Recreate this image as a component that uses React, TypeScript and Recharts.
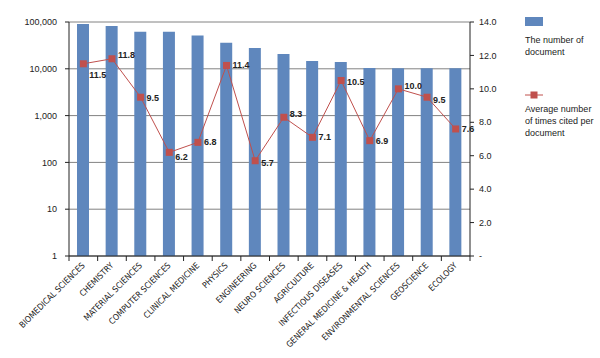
import React from 'react';
import {
  ComposedChart,
  Bar,
  Line,
  XAxis,
  YAxis,
  CartesianGrid,
  LabelList
} from 'recharts';

const categories = [
  'BIOMEDICAL SCIENCES',
  'CHEMISTRY',
  'MATERIAL SCIENCES',
  'COMPUTER SCIENCES',
  'CLINICAL MEDICINE',
  'PHYSICS',
  'ENGINEERING',
  'NEURO SCIENCES',
  'AGRICULTURE',
  'INFECTIOUS DISEASES',
  'GENERAL MEDICINE & HEALTH',
  'ENVIRONMENTAL SCIENCES',
  'GEOSCIENCE',
  'ECOLOGY'
];

// number of documents (log axis, left)
const documents = [90600, 82000, 62000, 62000, 51500, 36000, 27800, 20700, 14700, 14000, 10400, 10300, 10300, 10300];

// average number of times cited per document (right axis)
const citesPerDoc = [11.5, 11.8, 9.5, 6.2, 6.8, 11.4, 5.7, 8.3, 7.1, 10.5, 6.9, 10.0, 9.5, 7.6];

const leftTicks = [1, 10, 100, 1000, 10000, 100000];
const rightTicks = [0, 2, 4, 6, 8, 10, 12, 14];

const W = 600;
const H = 358;
const PLOT_LEFT = 69;
const PLOT_RIGHT = 470;
const BAND = (PLOT_RIGHT - PLOT_LEFT) / categories.length;

const BAR_COLOR = '#5f87bd';
const LINE_COLOR = '#c0504d';
const FONT = '"Liberation Sans", Arial, sans-serif';
const NARROW = '"Liberation Sans Narrow", "DejaVu Sans Condensed", "Liberation Sans", sans-serif';

// small nudges so labels don't sit on the line (like the original)
const labelDy = [11, -4, 1, 5, 0, 0, 2, -3, 0, 1, 0, -3, 3, 0];

const data = categories.map((name, i) => ({
  name,
  docs: documents[i],
  cites: citesPerDoc[i]
}));

const XTick = (props: any) => {
  const { x, y, payload, index } = props;
  const half = BAND / 2;
  return (
    <g>
      <line x1={x - half} y1={y} x2={x - half} y2={y + 5} stroke="#222" />
      {index === categories.length - 1 && (
        <line x1={x + half} y1={y} x2={x + half} y2={y + 5} stroke="#222" />
      )}
      <text
        transform={`translate(${x + 2},${y + 10}) rotate(-45)`}
        textAnchor="end"
        fontSize={8.5}
        fontFamily={NARROW}
        fill="#222"
      >
        {payload.value}
      </text>
    </g>
  );
};

const SquareDot = (props: any) => {
  const { cx, cy } = props;
  if (cx == null || cy == null) return null;
  return <rect x={cx - 3.5} y={cy - 3.5} width={7} height={7} fill={LINE_COLOR} />;
};

const ValueLabel = (props: any) => {
  const { x, y, value, index } = props;
  return (
    <text
      x={x + 6}
      y={y + (labelDy[index] || 0)}
      dominantBaseline="central"
      fontSize={9}
      fontWeight="bold"
      fontFamily={FONT}
      fill="#222"
    >
      {Number(value).toFixed(1)}
    </text>
  );
};

export default function App() {
  return (
    <div style={{ position: 'absolute', left: 0, top: 0, width: W, height: H, background: '#fff' }}>
      <ComposedChart
        width={W}
        height={H}
        data={data}
        margin={{ top: 22, right: 90, left: 0, bottom: 0 }}
      >
        <CartesianGrid yAxisId="left" vertical={false} stroke="#828282" />
        <XAxis
          dataKey="name"
          interval={0}
          height={102}
          tickSize={0}
          tickMargin={0}
          tick={<XTick />}
          tickLine={false}
          axisLine={{ stroke: '#222' }}
        />
        <YAxis
          yAxisId="left"
          scale="log"
          domain={[1, 100000]}
          ticks={leftTicks}
          allowDataOverflow
          width={69}
          tickSize={4}
          tickMargin={8}
          tick={{ fontSize: 9, fill: '#222', fontFamily: FONT }}
          tickFormatter={(v: number) => v.toLocaleString('en-US')}
          axisLine={{ stroke: '#222' }}
          tickLine={{ stroke: '#222' }}
        />
        <YAxis
          yAxisId="right"
          orientation="right"
          domain={[0, 14]}
          ticks={rightTicks}
          width={40}
          tickSize={4}
          tickMargin={5}
          tick={{ fontSize: 9, fill: '#222', fontFamily: FONT, textAnchor: 'start' }}
          tickFormatter={(v: number) => (v === 0 ? '-' : v.toFixed(1))}
          axisLine={{ stroke: '#222' }}
          tickLine={{ stroke: '#222' }}
        />
        <Bar
          yAxisId="left"
          dataKey={(d: any) => [1, d.docs]}
          fill={BAR_COLOR}
          barSize={12}
          isAnimationActive={false}
        />
        <Line
          yAxisId="right"
          dataKey="cites"
          stroke={LINE_COLOR}
          strokeWidth={1}
          dot={<SquareDot />}
          activeDot={false}
          isAnimationActive={false}
        >
          <LabelList dataKey="cites" content={<ValueLabel />} />
        </Line>
      </ComposedChart>
      <div
        style={{
          position: 'absolute',
          left: 525,
          top: 17,
          width: 75,
          fontFamily: FONT,
          fontSize: 9,
          lineHeight: '12px',
          color: '#222'
        }}
      >
        <div style={{ width: 18, height: 9, background: BAR_COLOR }} />
        <div style={{ marginTop: 8 }}>The number of<br />document</div>
        <svg width={20} height={10} style={{ display: 'block', marginTop: 32 }}>
          <line x1={0} y1={5} x2={18} y2={5} stroke={LINE_COLOR} strokeWidth={1} />
          <rect x={5.5} y={1.5} width={7} height={7} fill={LINE_COLOR} />
        </svg>
        <div style={{ marginTop: 3 }}>Average number<br />of times cited per<br />document</div>
      </div>
    </div>
  );
}
